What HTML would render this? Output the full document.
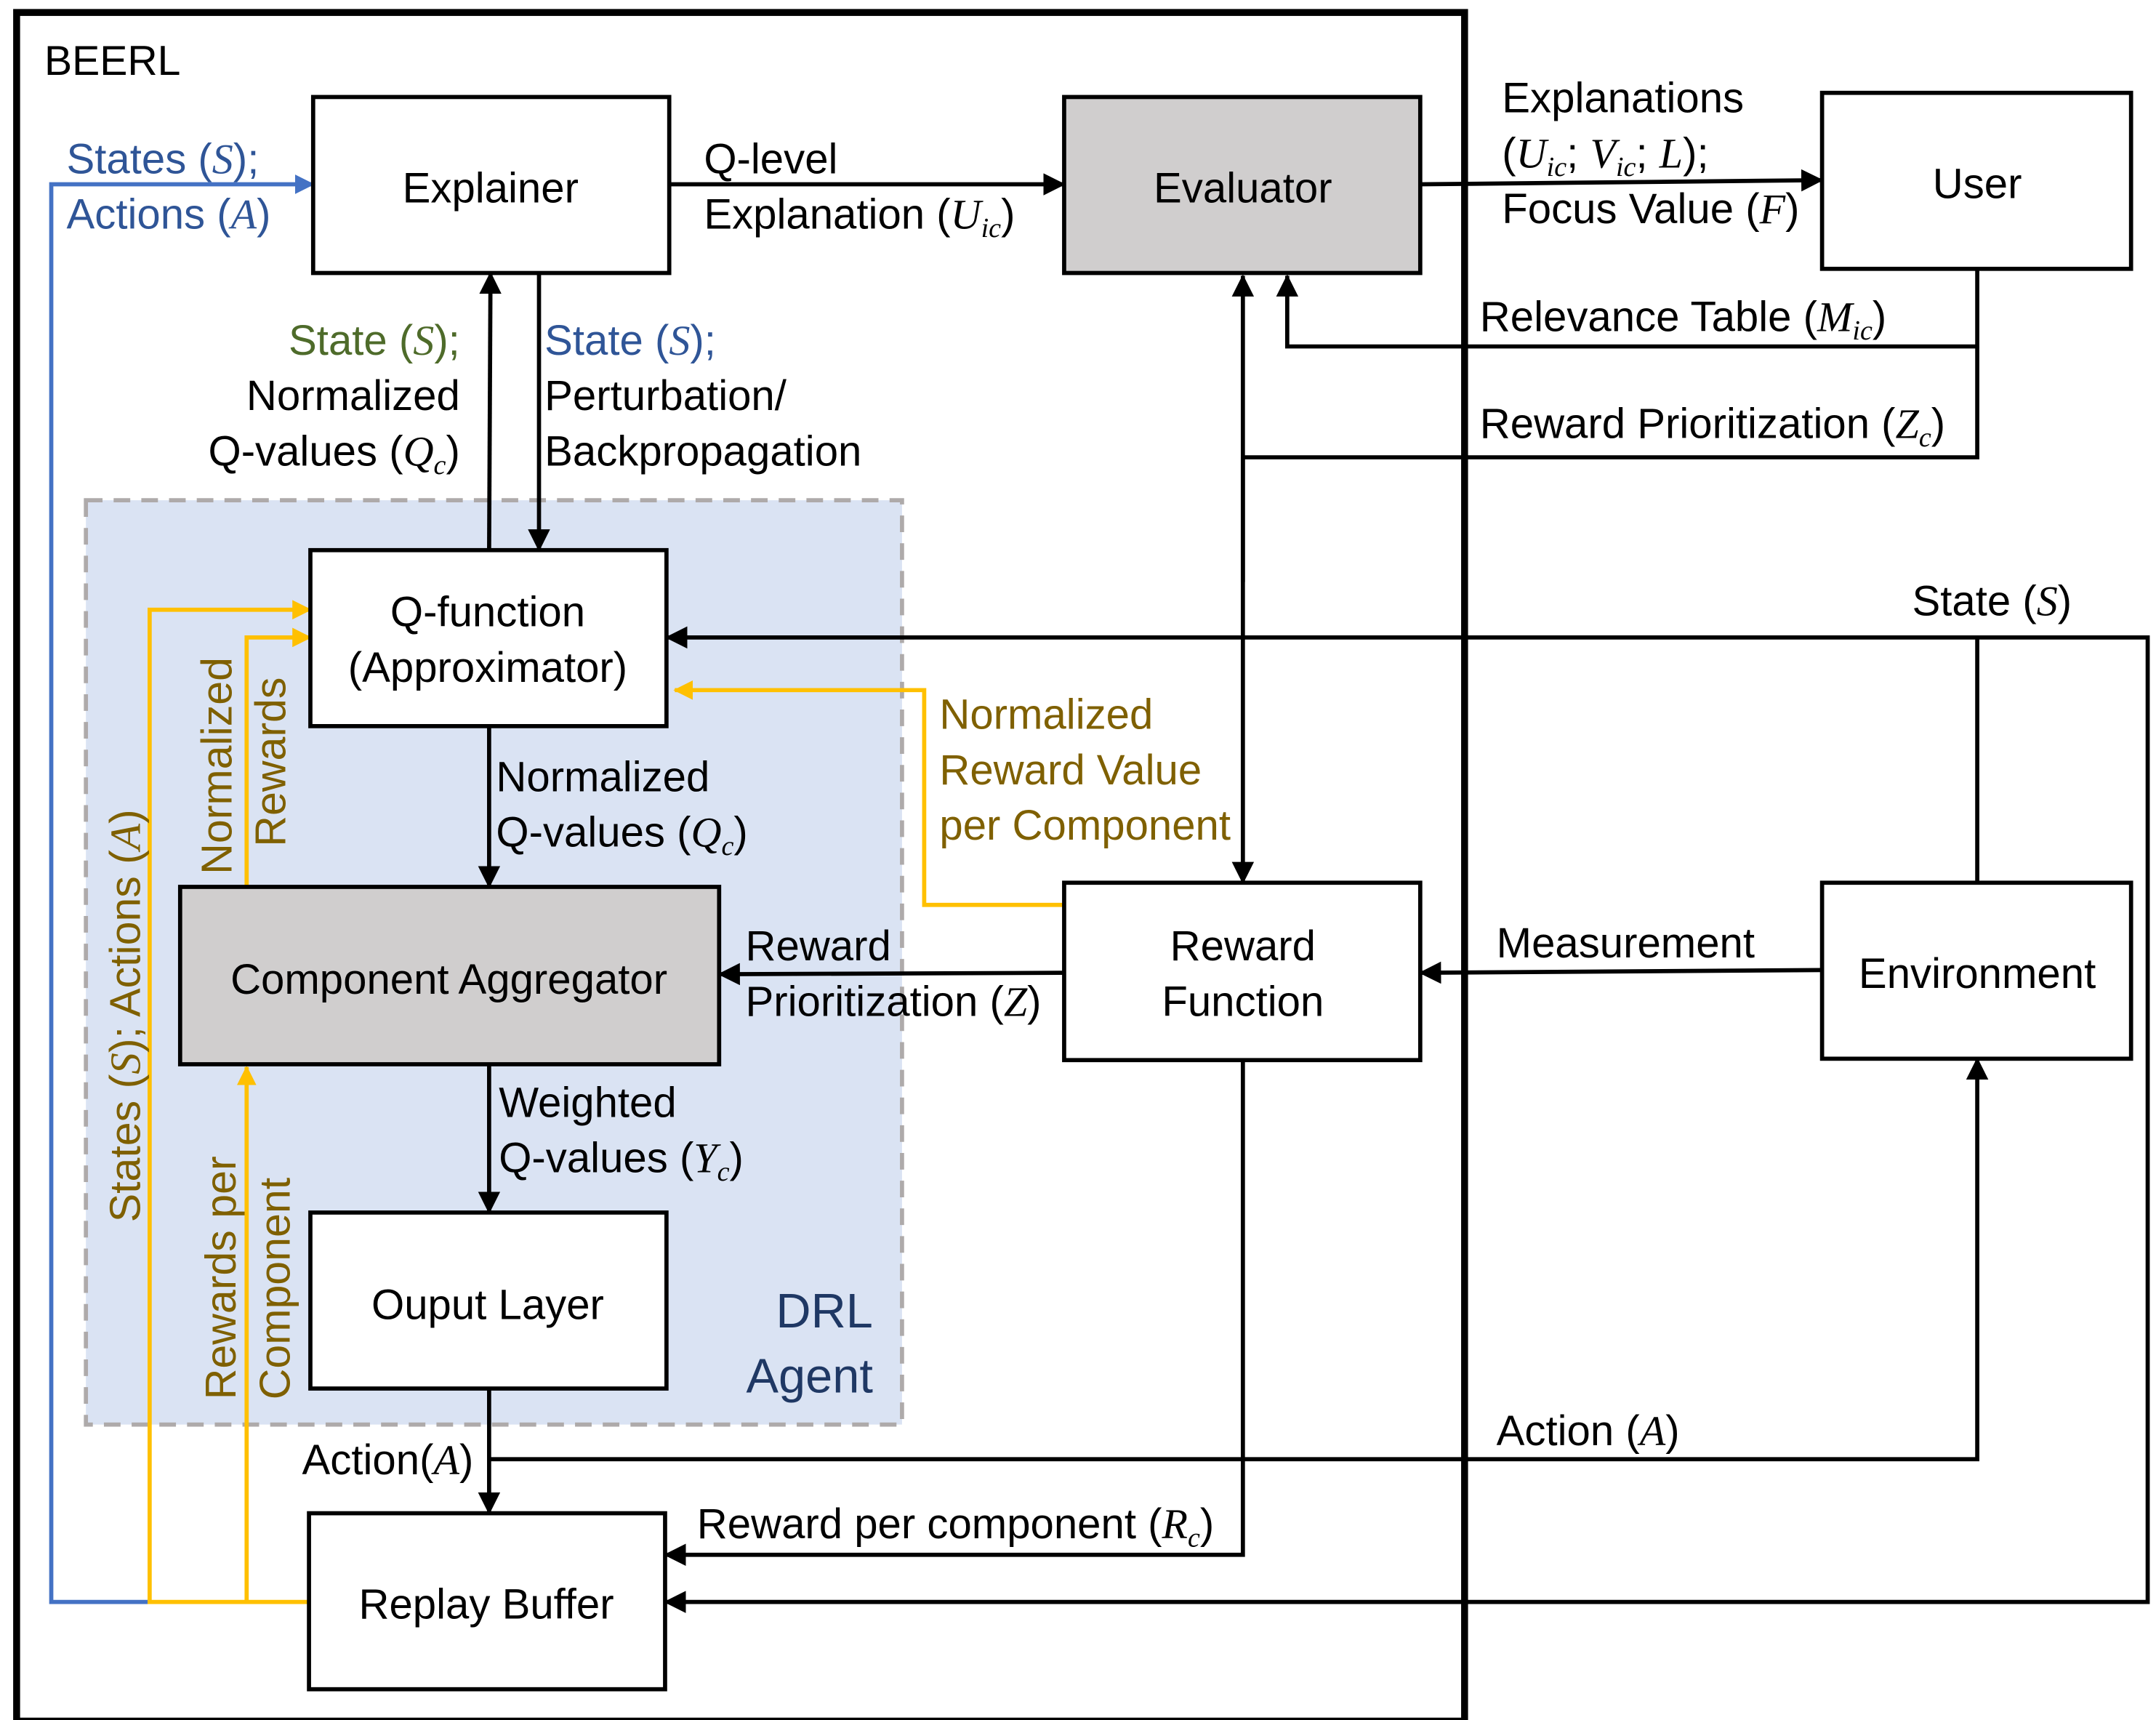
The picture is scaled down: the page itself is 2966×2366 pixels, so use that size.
<!DOCTYPE html>
<html><head><meta charset="utf-8"><style>
html,body{margin:0;padding:0;background:#fff;}
svg{display:block;}
text{font-family:"Liberation Sans",sans-serif;font-size:30.5px;fill:#000;}
.m{font-family:"Liberation Serif",serif;font-style:italic;}
.s{font-size:20px;}
.bl{fill:#2f5597;}
.gr{fill:#4e6b2a;}
.ol{fill:#7f6000;}
</style></head><body>
<svg width="2966" height="2366" viewBox="0 0 1556 1241.2" preserveAspectRatio="none" xmlns="http://www.w3.org/2000/svg">
<defs>
<marker id="ab" markerWidth="14" markerHeight="14" refX="13" refY="7" orient="auto" markerUnits="userSpaceOnUse" viewBox="0 0 14 14"><path d="M0,0 L14,7 L0,14 z" fill="#4472c4"/></marker>
<marker id="ay" markerWidth="14" markerHeight="14" refX="13" refY="7" orient="auto" markerUnits="userSpaceOnUse" viewBox="0 0 14 14"><path d="M0,0 L14,7 L0,14 z" fill="#ffc000"/></marker>
<marker id="ak" markerWidth="16" markerHeight="16" refX="15" refY="8" orient="auto" markerUnits="userSpaceOnUse" viewBox="0 0 16 16"><path d="M0,0 L16,8 L0,16 z" fill="#000"/></marker>
</defs>
<rect x="62" y="361" width="589" height="667" fill="#dae3f3" stroke="#aeaaaa" stroke-width="3" stroke-dasharray="12,8"/>
<rect x="12" y="9" width="1045" height="1233" fill="none" stroke="#000" stroke-width="5"/>
<text x="32" y="54" style="font-size:30px">BEERL</text>

<g fill="none" stroke="#000" stroke-width="3">
<line x1="483" y1="133" x2="768" y2="133" marker-end="url(#ak)"/>
<line x1="1025" y1="133" x2="1315" y2="130" marker-end="url(#ak)"/>
<polyline points="1427,194 1427,250 929,250 929,199" marker-end="url(#ak)"/>
<polyline points="1427,250 1427,330 897,330"/>
<line x1="897" y1="420" x2="897" y2="199" marker-end="url(#ak)"/>
<line x1="897" y1="330" x2="897" y2="637" marker-end="url(#ak)"/>
<line x1="353" y1="397" x2="354" y2="197" marker-end="url(#ak)"/>
<line x1="389" y1="197" x2="389" y2="397" marker-end="url(#ak)"/>
<line x1="353" y1="524" x2="353" y2="640" marker-end="url(#ak)"/>
<line x1="768" y1="702" x2="519" y2="703" marker-end="url(#ak)"/>
<line x1="353" y1="768" x2="353" y2="875" marker-end="url(#ak)"/>
<line x1="353" y1="1002" x2="353" y2="1092" marker-end="url(#ak)"/>
<polyline points="353,1053 1427,1053 1427,764" marker-end="url(#ak)"/>
<polyline points="897,765 897,1122 480,1122" marker-end="url(#ak)"/>
<line x1="1315" y1="700" x2="1025" y2="702" marker-end="url(#ak)"/>
<polyline points="1427,637 1427,460 481,460" marker-end="url(#ak)"/>
<polyline points="1427,460 1550,460 1550,1156 480,1156" marker-end="url(#ak)"/>
</g>
<polyline points="108,1156 37,1156 37,133 226,133" fill="none" stroke="#4472c4" stroke-width="3" marker-end="url(#ab)"/>
<g fill="none" stroke="#ffc000" stroke-width="3">
<polyline points="223,1156 108,1156 108,440 224,440" marker-end="url(#ay)"/>
<line x1="178" y1="1156" x2="178" y2="770" marker-end="url(#ay)"/>
<polyline points="178,640 178,460 224,460" marker-end="url(#ay)"/>
<polyline points="768,653 667,653 667,498 487,498" marker-end="url(#ay)"/>
</g>

<g stroke="#000" stroke-width="3">
<rect x="226" y="70" width="257" height="127" fill="#fff"/>
<rect x="768" y="70" width="257" height="127" fill="#d0cece"/>
<rect x="1315" y="67" width="223" height="127" fill="#fff"/>
<rect x="224" y="397" width="257" height="127" fill="#fff"/>
<rect x="130" y="640" width="389" height="128" fill="#d0cece"/>
<rect x="224" y="875" width="257" height="127" fill="#fff"/>
<rect x="223" y="1092" width="257" height="127" fill="#fff"/>
<rect x="768" y="637" width="257" height="128" fill="#fff"/>
<rect x="1315" y="637" width="223" height="127" fill="#fff"/>
</g>
<g text-anchor="middle">
<text x="354" y="146">Explainer</text>
<text x="897" y="146">Evaluator</text>
<text x="1427" y="143">User</text>
<text x="352" y="452">Q-function</text>
<text x="352" y="492">(Approximator)</text>
<text x="324" y="717">Component Aggregator</text>
<text x="352" y="952">Ouput Layer</text>
<text x="351" y="1168">Replay Buffer</text>
<text x="897" y="693">Reward</text>
<text x="897" y="733">Function</text>
<text x="1427" y="713">Environment</text>
</g>

<text x="48" y="125" class="bl">States (<tspan class="m bl">S</tspan>);</text>
<text x="48" y="165" class="bl">Actions (<tspan class="m bl">A</tspan>)</text>
<text x="508" y="125">Q-level</text>
<text x="508" y="165">Explanation (<tspan class="m">U</tspan><tspan class="m s" dy="6">ic</tspan><tspan dy="-6">)</tspan></text>
<text x="1084" y="81">Explanations</text>
<text x="1084" y="121">(<tspan class="m">U</tspan><tspan class="m s" dy="6">ic</tspan><tspan dy="-6">; </tspan><tspan class="m">V</tspan><tspan class="m s" dy="6">ic</tspan><tspan dy="-6">; </tspan><tspan class="m">L</tspan>);</text>
<text x="1084" y="161">Focus Value (<tspan class="m">F</tspan>)</text>
<text x="1068" y="239">Relevance Table (<tspan class="m">M</tspan><tspan class="m s" dy="6">ic</tspan><tspan dy="-6">)</tspan></text>
<text x="1068" y="316">Reward Prioritization (<tspan class="m">Z</tspan><tspan class="m s" dy="6">c</tspan><tspan dy="-6">)</tspan></text>
<g text-anchor="end">
<text x="332" y="256" class="gr">State (<tspan class="m gr">S</tspan>);</text>
<text x="332" y="296">Normalized</text>
<text x="332" y="336">Q-values (<tspan class="m">Q</tspan><tspan class="m s" dy="6">c</tspan><tspan dy="-6">)</tspan></text>
</g>
<text x="393" y="256" class="bl">State (<tspan class="m bl">S</tspan>);</text>
<text x="393" y="296">Perturbation/</text>
<text x="393" y="336">Backpropagation</text>
<text x="1380" y="444">State (<tspan class="m">S</tspan>)</text>
<text x="358" y="571">Normalized</text>
<text x="358" y="611">Q-values (<tspan class="m">Q</tspan><tspan class="m s" dy="6">c</tspan><tspan dy="-6">)</tspan></text>
<text x="678" y="526" class="ol">Normalized</text>
<text x="678" y="566" class="ol">Reward Value</text>
<text x="678" y="606" class="ol">per Component</text>
<text x="538" y="693">Reward</text>
<text x="538" y="733">Prioritization (<tspan class="m">Z</tspan>)</text>
<text x="1080" y="691">Measurement</text>
<text x="360" y="806">Weighted</text>
<text x="360" y="846">Q-values (<tspan class="m">Y</tspan><tspan class="m s" dy="6">c</tspan><tspan dy="-6">)</tspan></text>
<text x="630" y="958" text-anchor="end" style="font-size:35px;fill:#1f3864">DRL</text>
<text x="630" y="1005" text-anchor="end" style="font-size:35px;fill:#1f3864">Agent</text>
<text x="218" y="1064">Action(<tspan class="m">A</tspan>)</text>
<text x="1080" y="1043">Action (<tspan class="m">A</tspan>)</text>
<text x="503" y="1110">Reward per component (<tspan class="m">R</tspan><tspan class="m s" dy="6">c</tspan><tspan dy="-6">)</tspan></text>

<text transform="translate(101,882) rotate(-90)" class="ol" style="font-size:31px">States (<tspan class="m ol">S</tspan>);  Actions (<tspan class="m ol">A</tspan>)</text>
<text transform="translate(167,631) rotate(-90)" class="ol" style="font-size:31px">Normalized</text>
<text transform="translate(206,611) rotate(-90)" class="ol" style="font-size:31px">Rewards</text>
<text transform="translate(170,1010) rotate(-90)" class="ol" style="font-size:31px">Rewards per</text>
<text transform="translate(209,1010) rotate(-90)" class="ol" style="font-size:31px">Component</text>
</svg>
</body></html>
